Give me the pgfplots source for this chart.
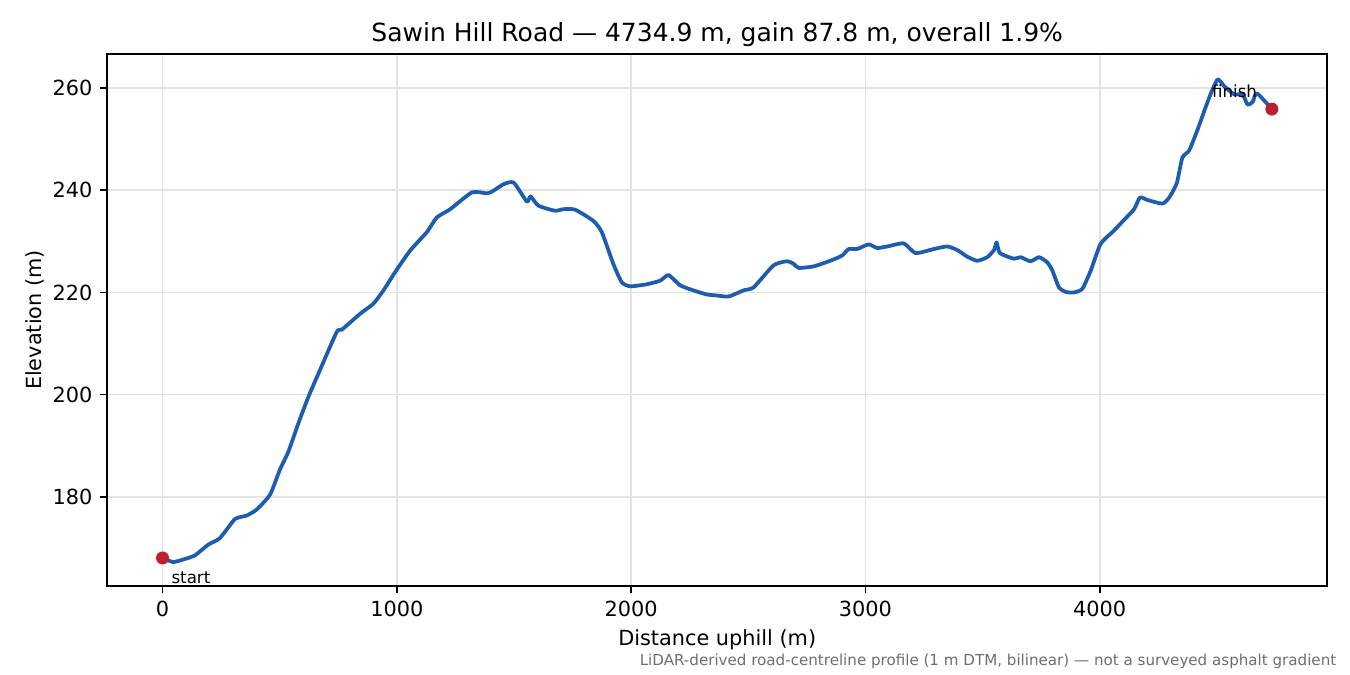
\documentclass[border=0pt]{standalone}
\usepackage{fontspec}
\setmainfont{DejaVu Sans}
\usepackage{pgfplots}
\pgfplotsset{compat=1.18}

\definecolor{profblue}{HTML}{1C5DB0}
\definecolor{dotred}{HTML}{BE1E2D}
\definecolor{gridgray}{HTML}{E3E3E3}
\definecolor{notegray}{HTML}{6E6E6E}

\pgfplotstableread{
x y
0 168.0
45 167.2
88 167.7
138 168.5
195 170.6
245 171.9
309 175.6
359 176.3
402 177.5
459 180.4
501 185.3
537 188.8
580 194.4
623 199.6
672 204.8
744 212.3
765 212.7
843 215.8
900 217.8
943 220.4
993 224.0
1057 228.2
1128 231.8
1171 234.7
1228 236.3
1321 239.6
1385 239.4
1412 239.9
1456 241.2
1499 241.5
1555 237.8
1571 238.8
1604 237.0
1675 236.0
1711 236.3
1761 236.2
1839 234.0
1875 231.8
1924 225.6
1960 222.0
1996 221.2
2067 221.6
2124 222.3
2160 223.4
2209 221.4
2266 220.4
2323 219.6
2366 219.4
2416 219.2
2480 220.4
2523 221.0
2608 225.3
2665 226.1
2694 225.6
2715 224.8
2779 225.1
2850 226.2
2900 227.2
2929 228.5
2964 228.5
3014 229.4
3050 228.7
3093 229.0
3164 229.6
3214 227.7
3292 228.5
3349 229.0
3392 228.3
3435 227.0
3477 226.2
3520 226.9
3549 228.3
3560 229.8
3574 227.7
3634 226.6
3662 226.9
3705 226.1
3741 226.9
3776 225.9
3798 224.3
3826 221.0
3855 220.1
3890 220.0
3926 220.7
3962 224.3
4004 229.5
4061 232.1
4104 234.2
4147 236.3
4172 238.6
4204 238.1
4268 237.4
4297 238.6
4329 241.4
4353 246.4
4382 247.8
4418 251.9
4467 258.1
4503 261.7
4531 260.4
4574 258.8
4610 258.8
4631 256.8
4653 257.3
4671 259.0
4734.9 255.9
}\profile

\begin{document}
\begin{tikzpicture}
\path[use as bounding box] (-51.4pt,-42.7pt) rectangle (596.6pt,281.3pt);
\begin{axis}[
    at={(0,0)}, anchor=south west,
    scale only axis,
    width=585.7pt, height=255.4pt,
    xmin=-236.7, xmax=4971.6,
    ymin=162.5, ymax=266.7,
    xtick={0,1000,2000,3000,4000},
    ytick={180,200,220,240,260},
    scaled x ticks=false,
    /pgf/number format/assume math mode=true,
    /pgf/number format/1000 sep={},
    tick label style={font=\fontsize{10}{12}\selectfont},
    tick align=outside,
    major tick length=3.5pt,
    xtick pos=bottom, ytick pos=left,
    axis line style={line width=0.8pt},
    tick style={line width=0.8pt, black},
    grid=major,
    major grid style={gridgray, line width=0.8pt},
    title={Sawin Hill Road — 4734.9 m, gain 87.8 m, overall 1.9\%},
    title style={font=\fontsize{12}{14}\selectfont, at={(0.5,1)}, anchor=base, yshift=-0.2pt},
    xlabel={Distance uphill (m)},
    ylabel={Elevation (m)},
    label style={font=\fontsize{10}{12}\selectfont},
    xlabel style={at={(0.5,0)}, anchor=center, yshift=-26pt},
    ylabel style={at={(0,0.5)}, anchor=center, yshift=34.6pt},
    clip=false,
]
\addplot[profblue, line width=1.8pt, line join=round, smooth, tension=0.35] table[x=x,y=y] {\profile};
\addplot[only marks, mark=*, mark size=2.9pt, dotred, draw=dotred] coordinates {(0,168.0) (4734.9,255.9)};
\node[anchor=west, font=\fontsize{8}{10}\selectfont] at (axis cs:0,168.0) [xshift=0.8pt, yshift=-9.5pt] {start};
\node[anchor=east, font=\fontsize{8}{10}\selectfont] at (axis cs:4734.9,255.9) [xshift=-3.6pt, yshift=8.5pt] {finish};
\node[anchor=east, font=\fontsize{7.25}{9}\selectfont, text=notegray] at (rel axis cs:1,0) [xshift=7.8pt, yshift=-36pt] {LiDAR-derived road-centreline profile (1 m DTM, bilinear) — not a surveyed asphalt gradient};
\end{axis}
\end{tikzpicture}
\end{document}
